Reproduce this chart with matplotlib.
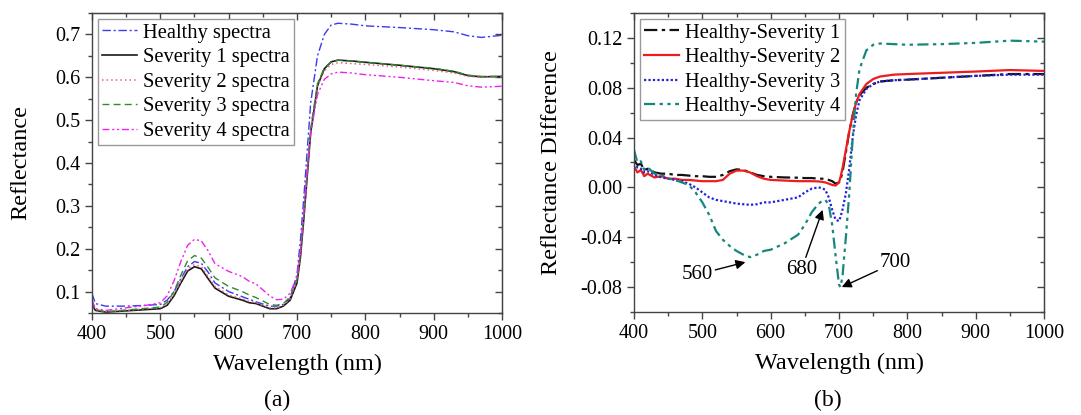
import numpy as np
import matplotlib
matplotlib.use("Agg")
import matplotlib.pyplot as plt
from matplotlib.ticker import MultipleLocator

plt.rcParams['font.family'] = ['Liberation Serif', 'DejaVu Serif']

# (a) reflectance spectra
wl_a = [400, 405, 420, 450, 480, 500, 510, 520, 530, 540, 550, 560, 570, 580, 600,
        620, 630, 640, 660, 670, 680, 690, 700, 705, 710, 715, 720, 730, 740, 750,
        760, 780, 800, 850, 900, 930, 950, 970, 1000]
healthy = [0.095, 0.072, 0.066, 0.066, 0.068, 0.070, 0.080, 0.100, 0.130, 0.158, 0.170,
           0.166, 0.145, 0.120, 0.100, 0.088, 0.082, 0.076, 0.066, 0.066, 0.070, 0.085,
           0.140, 0.220, 0.320, 0.430, 0.540, 0.650, 0.700, 0.722, 0.726, 0.724, 0.720,
           0.716, 0.711, 0.706, 0.697, 0.693, 0.698]
sev1 = [0.070, 0.056, 0.052, 0.055, 0.058, 0.060, 0.068, 0.090, 0.120, 0.148, 0.158,
        0.153, 0.130, 0.108, 0.089, 0.080, 0.074, 0.072, 0.060, 0.060, 0.066, 0.080,
        0.120, 0.180, 0.270, 0.370, 0.470, 0.580, 0.620, 0.636, 0.640, 0.638, 0.635,
        0.628, 0.620, 0.613, 0.604, 0.601, 0.602]
sev2 = [0.075, 0.058, 0.053, 0.056, 0.060, 0.062, 0.071, 0.094, 0.125, 0.153, 0.163,
        0.158, 0.135, 0.112, 0.092, 0.083, 0.077, 0.074, 0.062, 0.062, 0.068, 0.083,
        0.125, 0.190, 0.280, 0.380, 0.480, 0.580, 0.615, 0.630, 0.634, 0.632, 0.630,
        0.624, 0.616, 0.610, 0.602, 0.600, 0.601]
sev3 = [0.078, 0.058, 0.053, 0.057, 0.061, 0.064, 0.075, 0.100, 0.138, 0.172, 0.184,
        0.178, 0.156, 0.132, 0.112, 0.100, 0.092, 0.086, 0.070, 0.068, 0.072, 0.088,
        0.128, 0.190, 0.280, 0.380, 0.480, 0.585, 0.622, 0.636, 0.640, 0.638, 0.635,
        0.628, 0.621, 0.614, 0.605, 0.602, 0.602]
sev4 = [0.080, 0.060, 0.056, 0.062, 0.068, 0.074, 0.090, 0.125, 0.170, 0.208, 0.222,
        0.218, 0.195, 0.165, 0.147, 0.135, 0.124, 0.118, 0.090, 0.081, 0.082, 0.096,
        0.135, 0.195, 0.285, 0.380, 0.470, 0.560, 0.595, 0.608, 0.612, 0.610, 0.606,
        0.600, 0.592, 0.588, 0.580, 0.577, 0.579]
labels_a = ["Healthy spectra", "Severity 1 spectra", "Severity 2 spectra",
            "Severity 3 spectra", "Severity 4 spectra"]

# (b) reflectance differences
wl_b = [400, 405, 410, 415, 420, 430, 440, 450, 460, 470, 480, 490, 500, 510, 520,
        530, 540, 550, 560, 570, 580, 590, 600, 620, 640, 650, 660, 670, 675, 680,
        685, 690, 695, 700, 702, 705, 710, 715, 720, 725, 730, 740, 750, 760, 780,
        800, 850, 900, 950, 1000]
hs1 = [0.022, 0.018, 0.019, 0.014, 0.015, 0.012, 0.011, 0.011, 0.010, 0.010, 0.0095,
       0.009, 0.009, 0.0085, 0.0085, 0.010, 0.013, 0.0145, 0.014, 0.012, 0.010, 0.009,
       0.0085, 0.008, 0.0078, 0.0075, 0.0075, 0.007, 0.007, 0.0068, 0.006, 0.005,
       0.003, 0.004, 0.006, 0.012, 0.028, 0.045, 0.058, 0.068, 0.074, 0.080, 0.083,
       0.085, 0.086, 0.0865, 0.088, 0.0895, 0.091, 0.091]
hs2 = [0.017, 0.012, 0.014, 0.009, 0.011, 0.008, 0.009, 0.007, 0.007, 0.006, 0.006,
       0.0055, 0.005, 0.005, 0.005, 0.006, 0.011, 0.0135, 0.0135, 0.012, 0.009, 0.007,
       0.006, 0.0055, 0.005, 0.005, 0.005, 0.0048, 0.0045, 0.004, 0.003, 0.002,
       0.0015, 0.004, 0.008, 0.015, 0.030, 0.045, 0.058, 0.068, 0.075, 0.083, 0.087,
       0.089, 0.0905, 0.091, 0.092, 0.093, 0.0942, 0.0935]
hs3 = [0.020, 0.016, 0.015, 0.012, 0.013, 0.010, 0.008, 0.007, 0.006, 0.005, 0.003,
       0.0, -0.004, -0.008, -0.010, -0.011, -0.012, -0.013, -0.0135, -0.014, -0.0135,
       -0.012, -0.012, -0.010, -0.008, -0.004, -0.001, 0.0, -0.0005, -0.002, -0.008,
       -0.018, -0.026, -0.027, -0.024, -0.018, -0.005, 0.015, 0.040, 0.058, 0.070,
       0.079, 0.083, 0.085, 0.086, 0.0865, 0.088, 0.0895, 0.0905, 0.0905]
hs4 = [0.030, 0.020, 0.021, 0.014, 0.016, 0.011, 0.010, 0.007, 0.006, 0.004, 0.002,
       -0.004, -0.012, -0.022, -0.035, -0.042, -0.047, -0.051, -0.054, -0.056, -0.054,
       -0.051, -0.050, -0.045, -0.038, -0.030, -0.020, -0.013, -0.011, -0.010, -0.014,
       -0.030, -0.055, -0.078, -0.080, -0.072, -0.040, -0.005, 0.040, 0.075, 0.095,
       0.110, 0.1145, 0.1155, 0.115, 0.1145, 0.115, 0.116, 0.1178, 0.117]
labels_b = ["Healthy-Severity 1", "Healthy-Severity 2", "Healthy-Severity 3",
            "Healthy-Severity 4"]

dashdot = (0, (6, 2, 1.5, 2))
dashdotdot = (0, (5, 2, 1.5, 2, 1.5, 2))

fig = plt.figure(figsize=(10.81, 4.15), dpi=100)
ax1 = fig.add_axes([0.0851, 0.2458, 0.3793, 0.7229])
ax2 = fig.add_axes([0.5865, 0.2482, 0.3793, 0.7205])

ax1.plot(wl_a, healthy, color='#3a3af0', lw=1.0, ls=dashdot, label=labels_a[0])
ax1.plot(wl_a, sev1, color='#1a1a1a', lw=1.2, ls='-', label=labels_a[1])
ax1.plot(wl_a, sev2, color='#e8607f', lw=1.1, ls=(0, (1, 2)), label=labels_a[2])
ax1.plot(wl_a, sev3, color='#2e8b2e', lw=1.0, ls=(0, (5, 3)), label=labels_a[3])
ax1.plot(wl_a, sev4, color='#ee22ee', lw=1.0, ls=dashdotdot, label=labels_a[4])

ax2.plot(wl_b, hs1, color='#111111', lw=1.6, ls=dashdot, label=labels_b[0])
ax2.plot(wl_b, hs2, color='#ee1c1c', lw=1.6, ls='-', label=labels_b[1])
ax2.plot(wl_b, hs3, color='#2222dd', lw=1.6, ls=(0, (1, 1)), label=labels_b[2])
ax2.plot(wl_b, hs4, color='#16877a', lw=1.6, ls=dashdotdot, label=labels_b[3])

ax1.set_xlim(400, 1000)
ax1.set_ylim(0.05, 0.75)
ax1.xaxis.set_major_locator(MultipleLocator(100))
ax1.xaxis.set_minor_locator(MultipleLocator(50))
ax1.yaxis.set_major_locator(MultipleLocator(0.1))
ax1.yaxis.set_minor_locator(MultipleLocator(0.05))
ax1.set_yticks([0.1, 0.2, 0.3, 0.4, 0.5, 0.6, 0.7])
ax1.set_yticklabels(["0.1", "0.2", "0.3", "0.4", "0.5", "0.6", "0.7"])

ax2.set_xlim(400, 1000)
ax2.set_ylim(-0.10, 0.14)
ax2.xaxis.set_major_locator(MultipleLocator(100))
ax2.xaxis.set_minor_locator(MultipleLocator(50))
ax2.set_yticks([-0.08, -0.04, 0.0, 0.04, 0.08, 0.12])
ax2.set_yticklabels(["-0.08", "-0.04", "0.00", "0.04", "0.08", "0.12"])
ax2.yaxis.set_minor_locator(MultipleLocator(0.02))

for ax in (ax1, ax2):
    for s in ax.spines.values():
        s.set_color('#444444')
        s.set_linewidth(1.0)
    ax.tick_params(which='both', direction='out', top=False, right=False,
                   color='#444444', labelsize=14.5)
    ax.tick_params(which='major', length=5, width=1)
    ax.tick_params(which='minor', length=3, width=1)
    sx = ax.secondary_xaxis('top')
    sx.xaxis.set_major_locator(MultipleLocator(100))
    sx.xaxis.set_minor_locator(MultipleLocator(50))
    sy = ax.secondary_yaxis('right')
    sy.yaxis.set_major_locator(ax.yaxis.get_major_locator())
    sy.yaxis.set_minor_locator(ax.yaxis.get_minor_locator())
    for sec in (sx, sy):
        sec.tick_params(which='both', direction='in', labeltop=False, labelright=False,
                        color='#444444')
        sec.tick_params(which='major', length=5, width=1)
        sec.tick_params(which='minor', length=3, width=1)
        for s in sec.spines.values():
            s.set_color('#444444')
    ax.set_xlabel("Wavelength (nm)", fontsize=17.5)

ax1.set_ylabel("Reflectance", fontsize=17.5)
ax2.set_ylabel("Reflectance Difference", fontsize=17.5)
ax1.xaxis.set_label_coords(0.5, -0.135)
ax2.xaxis.set_label_coords(0.5, -0.135)
ax1.yaxis.set_label_coords(-0.148, 0.5)
ax2.yaxis.set_label_coords(-0.175, 0.5)

leg_kw = dict(loc='upper left', fontsize=14.8, frameon=True, fancybox=False,
              edgecolor='#999999', framealpha=1, handlelength=1.7, handletextpad=0.3,
              labelspacing=0.25, borderpad=0.2, borderaxespad=0.3)
l1 = ax1.legend(**leg_kw)
l2 = ax2.legend(**leg_kw)
for l in (l1, l2):
    l.get_frame().set_linewidth(1.0)

arrow = dict(arrowstyle='-|>', color='black', lw=1.0, mutation_scale=14,
             shrinkA=0, shrinkB=0)
ax2.annotate("560", xy=(563, -0.060), xytext=(492, -0.070), fontsize=15,
             ha='center', va='center', arrowprops=arrow)
ax2.annotate("680", xy=(676, -0.018), xytext=(645, -0.066), fontsize=15,
             ha='center', va='center', arrowprops=arrow)
ax2.annotate("700", xy=(704, -0.080), xytext=(783, -0.060), fontsize=15,
             ha='center', va='center', arrowprops=arrow)

fig.text(277 / 1081, 1 - 400 / 415, "(a)", fontsize=17, ha='center', va='center')
fig.text(828 / 1081, 1 - 400 / 415, "(b)", fontsize=17, ha='center', va='center')

fig.savefig("out.png", dpi=100)
